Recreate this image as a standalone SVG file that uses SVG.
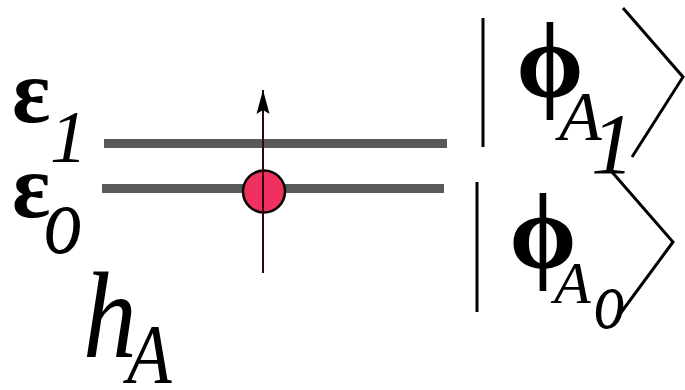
<svg xmlns="http://www.w3.org/2000/svg" width="685" height="390" viewBox="0 0 685 390">
<style>
.t{font-family:"Liberation Serif","Times New Roman",serif;fill:#000}
.i{font-style:italic}
.b{font-weight:bold}
.phi{font-family:"Liberation Serif","Times New Roman",serif;font-weight:bold;font-size:108px;text-anchor:middle}
.bar{stroke:#595959;stroke-width:9}
.ln{stroke:#000;stroke-width:3;fill:none}
</style>
<defs>
<marker id="ah" markerWidth="24" markerHeight="14" refX="24" refY="7" orient="auto" markerUnits="userSpaceOnUse">
<path d="M24,7 L0,0.5 L4,7 L0,13.5 Z" fill="#000"/>
</marker>
</defs>
<rect width="685" height="390" fill="#fff"/>
<g id="levels">
<line class="bar" x1="104" y1="143.5" x2="447" y2="143.5"/>
<line class="bar" x1="102" y1="188.5" x2="444" y2="188.5"/>
</g>
<g id="electron">
<circle cx="264" cy="191.5" r="21" fill="#f0305e" stroke="#000" stroke-width="2.5"/>
</g>
<g id="connectors">
<line x1="263" y1="273" x2="263" y2="90" stroke="#3a0010" stroke-width="2" marker-end="url(#ah)"/>
</g>
<g id="e1">
<text class="t b" x="12" y="122" font-size="90">ε</text>
<text class="t i" x="50" y="162" font-size="74">1</text>
</g>
<g id="e0">
<text class="t b" x="12" y="217" font-size="90">ε</text>
<text class="t i" transform="translate(44,253) scale(0.78,1)" font-size="98">o</text>
</g>
<g id="hA">
<text class="t i" transform="translate(83,357) scale(0.88,1)" font-size="122">h</text>
<text class="t i" transform="translate(127,383) scale(0.87,1)" font-size="84">A</text>
</g>
<g id="ket1">
<line class="ln" x1="483" y1="18" x2="483" y2="147"/>
<text class="phi" x="550" y="97">ϕ</text>
<text class="t i" x="559" y="140" font-size="70">A</text>
<text class="t i" x="591" y="173" font-size="86">1</text>
<polyline class="ln" points="623,8 683,77 632,157"/>
</g>
<g id="ket0">
<line class="ln" x1="477" y1="182" x2="477" y2="312"/>
<text class="phi" x="543" y="268">ϕ</text>
<text class="t i" x="554" y="303" font-size="60">A</text>
<text class="t i" transform="translate(594,328) scale(0.76,1)" font-size="82">o</text>
<polyline class="ln" points="612,172 673,242 617,318"/>
</g>
</svg>
